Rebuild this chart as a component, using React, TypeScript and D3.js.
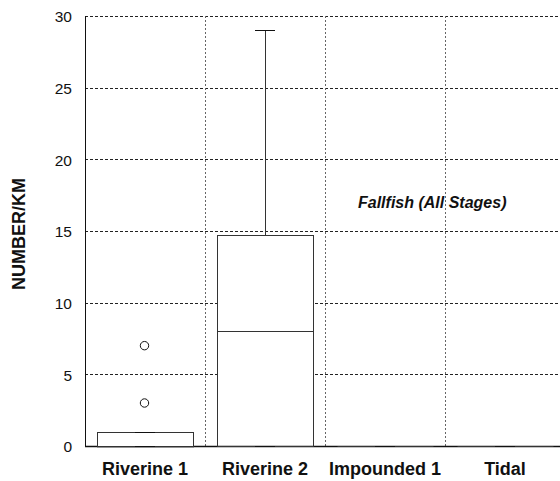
import { scaleBand, scaleLinear } from "d3";

// box-plot summaries
const categories = ["Riverine 1", "Riverine 2", "Impounded 1", "Tidal"];
const lowWhisker = [0, 0, 0, 0];
const q1 = [0, 0, 0, 0];
const median = [0, 8, 0, 0];
const q3 = [1, 14.7, 0, 0];
const highWhisker = [1, 29, 0, 0];
const outliers = [[3, 7], [], [], []];
const yTicks = [0, 5, 10, 15, 20, 25, 30];
const note = "Fallfish (All Stages)";

const width = 560;
const height = 481;
const left = 85;
const right = 565;
const top = 16;
const bottom = 446;
const font = "'Liberation Sans', Arial, sans-serif";

export default function App() {
  const x = scaleBand().domain(categories).range([left, right]).paddingInner(0).paddingOuter(0);
  const y = scaleLinear().domain([0, 30]).range([bottom, top]);
  const bw = x.bandwidth() * 0.8;
  const capW = 20;

  return (
    <svg width={width} height={height} style={{ position: "absolute", left: 0, top: 0, background: "#fff" }}
      fontFamily={font}>
      {/* horizontal grid */}
      <g stroke="#222" strokeWidth={1} strokeDasharray="3,2">
        {yTicks.filter(t => t > 0).map(t => (
          <line key={t} x1={left} x2={right} y1={Math.round(y(t)) + 0.5} y2={Math.round(y(t)) + 0.5} />
        ))}
      </g>
      {/* vertical grid at category boundaries */}
      <g stroke="#666" strokeWidth={1} strokeDasharray="2,2">
        {categories.slice(1).map(c => (
          <line key={c} x1={Math.round(x(c)!) + 0.5} x2={Math.round(x(c)!) + 0.5} y1={top} y2={bottom} />
        ))}
      </g>
      {/* axes */}
      <line x1={left + 0.5} x2={left + 0.5} y1={top} y2={bottom} stroke="#111" />
      <line x1={left} x2={right} y1={bottom + 0.5} y2={bottom + 0.5} stroke="#111" strokeWidth={1.5} />

      <g fontSize={15.5} textAnchor="end" fill="#111">
        {yTicks.map(t => (
          <text key={t} x={72} y={y(t) + 6.3}>{t}</text>
        ))}
      </g>
      <text transform={`translate(25,${(top + bottom) / 2 + 3}) rotate(-90)`} textAnchor="middle"
        fontSize={18} fontWeight="bold" fill="#111">NUMBER/KM</text>

      <g fontSize={18} fontWeight="bold" textAnchor="middle" fill="#111">
        {categories.map(c => (
          <text key={c} x={x(c)! + x.bandwidth() / 2} y={475}>{c}</text>
        ))}
      </g>

      {/* boxes */}
      <g stroke="#333" strokeWidth={1} fill="none">
        {categories.map((c, i) => {
          const cx = x(c)! + x.bandwidth() / 2;
          const cxr = Math.round(cx) + 0.5;
          const x0 = Math.round(cx - bw / 2) + 0.5;
          return (
            <g key={c}>
              {highWhisker[i] > q3[i] && (
                <line x1={cxr} x2={cxr} y1={y(q3[i])} y2={y(highWhisker[i])} />
              )}
              {lowWhisker[i] < q1[i] && (
                <line x1={cxr} x2={cxr} y1={y(q1[i])} y2={y(lowWhisker[i])} />
              )}
              <rect x={x0} y={Math.round(y(q3[i])) + 0.5} width={bw}
                height={Math.max(0, y(q1[i]) - y(q3[i]))} fill="#fff" />
              <line x1={x0} x2={x0 + bw} y1={Math.round(y(median[i])) + 0.5} y2={Math.round(y(median[i])) + 0.5} />
              <line x1={cx - capW / 2} x2={cx + capW / 2} y1={Math.round(y(highWhisker[i])) + 0.5}
                y2={Math.round(y(highWhisker[i])) + 0.5} stroke="#111" />
              <line x1={cx - capW / 2} x2={cx + capW / 2} y1={Math.round(y(lowWhisker[i])) + 0.5}
                y2={Math.round(y(lowWhisker[i])) + 0.5} stroke="#111" />
              {outliers[i].map(v => (
                <circle key={v} cx={cx - 0.5} cy={y(v)} r={4.2} stroke="#111" fill="#fff" />
              ))}
            </g>
          );
        })}
      </g>

      <text x={358} y={208} fontSize={16} fontWeight="bold" fontStyle="italic" fill="#111">{note}</text>
    </svg>
  );
}
